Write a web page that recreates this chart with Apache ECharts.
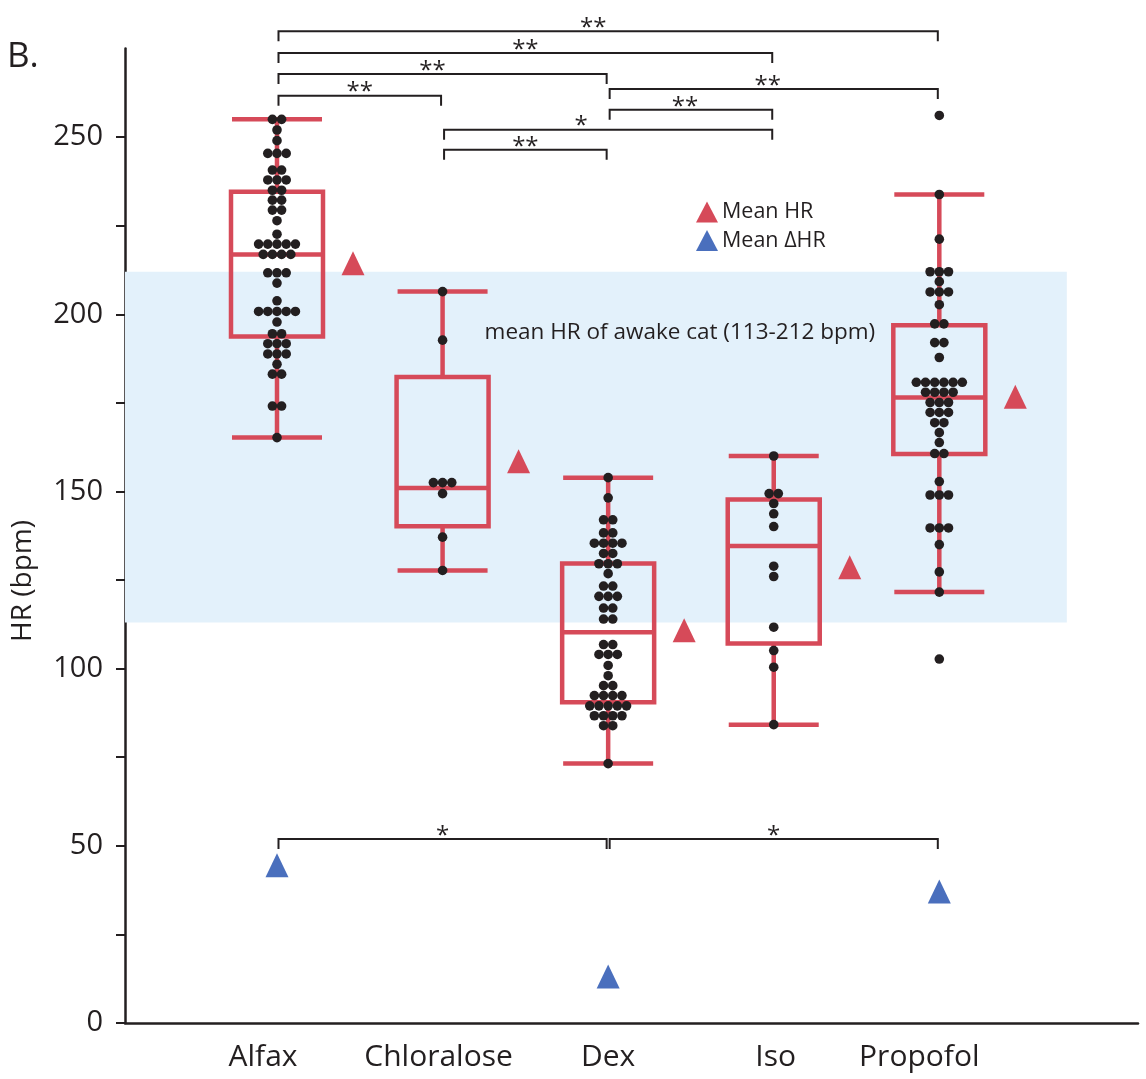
<!DOCTYPE html>
<html>
<head>
<meta charset="utf-8">
<script src="https://cdn.jsdelivr.net/npm/echarts@6/dist/echarts.min.js"></script>
<style>
html,body{margin:0;padding:0;background:#fff;}
#chart{width:1146px;height:1079px;}
</style>
</head>
<body>
<div id="chart"></div>
<script>
// ---------------- DATA ----------------
const categories = ['Alfax', 'Chloralose', 'Dex', 'Iso', 'Propofol'];

// individual HR values (bpm), equal values form one beeswarm row
const alfaxHR = [255,255, 252, 249, 245.4,245.4,245.4, 240.7,240.7, 237.9,237.9,237.9, 235,235, 232.2,232.2,
  229.4,229.4, 226.4, 222.6, 219.8,219.8,219.8,219.8,219.8, 216.9,216.9,216.9,216.9, 211.7,211.7,211.7, 208.8,
  203.8, 200.8,200.8,200.8,200.8,200.8, 197.8, 194.5,194.5, 191.7,191.7,191.7, 188.8,188.8,188.8, 185.9,
  183.1,183.1, 174.1,174.1, 165.2];
const chloraloseHR = [206.4, 192.7, 152.5,152.5,152.5, 149.4, 137.1, 127.7];
const dexHR = [153.9, 148.2, 142.0,142.0, 138.3,138.3, 135.4,135.4,135.4,135.4, 132.5,132.5, 129.6,129.6,129.6,
  126.8, 123.3,123.3, 120.4,120.4,120.4, 117.1,117.1, 114.0,114.0, 106.8,106.8, 104.0,104.0,104.0, 100.9, 98.0,
  95.2,95.2, 92.4,92.4,92.4,92.4, 89.5,89.5,89.5,89.5,89.5, 86.7,86.7,86.7,86.7, 83.9,83.9, 73.2];
const isoHR = [160.0, 149.4,149.4, 146.6, 143.7, 140.1, 128.9, 126.0, 111.7, 105.1, 100.4, 84.2];
const propofolHR = [256.1, 233.8, 221.2, 212.0,212.0,212.0, 209.2, 206.3,206.3,206.3, 202.7, 197.3,197.3,
  192.0,192.0, 187.8, 180.8,180.8,180.8,180.8,180.8,180.8, 178.0,178.0,178.0,178.0, 175.1,175.1,175.1,
  172.3,172.3,172.3, 169.4,169.4, 166.6, 163.8, 160.7,160.7, 152.8, 149.0,149.0,149.0, 139.7,139.7,139.7,
  135.0, 127.3, 121.6, 102.7];
const groupHR = [alfaxHR, chloraloseHR, dexHR, isoHR, propofolHR];

// box plot statistics
const boxMin    = [165.2, 127.7,  73.2,  84.2, 121.6];
const boxQ1     = [193.7, 140.2,  90.5, 107.1, 160.6];
const boxMedian = [216.9, 151.0, 110.3, 134.6, 176.5];
const boxQ3     = [234.6, 182.3, 129.7, 147.7, 196.9];
const boxMax    = [255.0, 206.4, 153.9, 160.0, 233.8];

// means
const meanHR      = [214.4, 158.5, 110.8, 128.6, 176.7];
const meanDeltaHR = [44.5, null, 13.1, null, 37.1];

// awake reference band (bpm)
const awakeBand = [113, 212];
const awakeLabel = 'mean HR of awake cat (113-212 bpm)';

// significance brackets: from index, to index, height (bpm), label
const bracketFrom  = [0, 0, 0, 0, 2, 2, 1, 1, 0, 2];
const bracketTo    = [4, 3, 2, 1, 4, 3, 3, 2, 2, 4];
const bracketLevel = [279.9, 273.7, 267.8, 261.7, 263.6, 257.7, 252.1, 246.4, 51.9, 51.9];
const bracketLabel = ['**', '**', '**', '**', '**', '**', '*', '**', '*', '*'];

// axis ticks
const yTickValues  = [0, 25, 50, 75, 100, 125, 150, 175, 200, 225, 250];
const yLabelValues = [0, 50, 100, 150, 200, 250];

// ---------------- STYLE ----------------
const RED = '#d64a59';
const BLUE = '#4a6fbd';
const INK = '#231f20';
const BAND = '#e3f1fb';
const FONT = 'Open Sans';
const DOT_STEP = 9.2;
const bracketLabelDx = [-15, 0, -10, 0, -6, -6, -27, 0, 0, 0];
const xLabelDx = [-14, -4, 0, 2, -20];

const pos = i => i + 1;

// beeswarm dots
const dots = [];
groupHR.forEach((vals, gi) => {
  const rows = new Map();
  vals.forEach(v => rows.set(v, (rows.get(v) || 0) + 1));
  rows.forEach((n, v) => {
    for (let k = 0; k < n; k++) {
      dots.push({ value: [pos(gi), v], symbolOffset: [(k - (n - 1) / 2) * DOT_STEP, 0] });
    }
  });
});

const boxData = categories.map((c, i) => [pos(i), boxMin[i], boxQ1[i], boxMedian[i], boxQ3[i], boxMax[i]]);
const meanData = meanHR.map((v, i) => [pos(i), v]);
const deltaData = meanDeltaHR.map((v, i) => v == null ? null : [pos(i), v]).filter(d => d);
const bracketData = bracketFrom.map((f, i) => [pos(f), pos(bracketTo[i]), bracketLevel[i], bracketLabel[i]]);

const chart = echarts.init(document.getElementById('chart'));

const option = {
  animation: false,
  backgroundColor: '#fff',
  grid: { left: 125, right: 8, top: 48.5, bottom: 56, containLabel: false },
  legend: {
    orient: 'vertical', left: 691, top: 196, itemWidth: 22, itemHeight: 21, itemGap: 6.5,
    icon: 'triangle',
    textStyle: { fontFamily: FONT, fontSize: 21.5, color: INK, padding: [0, 0, 0, -1] },
    data: [{ name: 'Mean HR', itemStyle: { color: RED } }, { name: 'Mean \u0394HR', itemStyle: { color: BLUE } }]
  },
  graphic: [
    { type: 'text', left: 7, top: 40, style: { text: 'B.', font: '35px "' + FONT + '"', fill: INK } },
    { type: 'text', x: 23, y: 581, rotation: Math.PI / 2,
      style: { text: 'HR (bpm)', font: '28px "' + FONT + '"', fill: INK, align: 'center', verticalAlign: 'middle' } }
  ],
  xAxis: {
    type: 'value', min: 0.082, max: 6.2,
    splitLine: { show: false },
    axisLine: { show: true, onZero: false, lineStyle: { color: INK, width: 2.5 } },
    axisTick: { show: false },
    axisLabel: {
      customValues: [1, 2, 3, 4, 5],
      formatter: v => {
        const i = Math.round(v) - 1;
        return '{c' + i + '|' + (categories[i] || '') + '}';
      },
      rich: Object.fromEntries(xLabelDx.map((d, i) => ['c' + i, {
        fontFamily: FONT, fontSize: 30, color: INK,
        padding: d < 0 ? [0, -2 * d, 0, 0] : [0, 0, 0, 2 * d]
      }])),
      fontFamily: FONT, fontSize: 30, color: INK, margin: 19
    }
  },
  yAxis: {
    type: 'value', min: 0, max: 275,
    splitLine: { show: false },
    axisLine: { show: true, lineStyle: { color: INK, width: 2.5 } },
    axisTick: { show: true, customValues: yTickValues, length: 9, lineStyle: { color: INK, width: 2 } },
    axisLabel: { customValues: yLabelValues, fontFamily: FONT, fontSize: 29, color: INK, margin: 22 }
  },
  series: [
    {
      type: 'line', data: [], z: 0, silent: true,
      markArea: {
        silent: true,
        itemStyle: { color: BAND },
        label: {
          show: true, position: 'insideTop', offset: [84, 44],
          fontFamily: FONT, fontSize: 22.5, color: INK
        },
        data: [[{ xAxis: 0.082, yAxis: awakeBand[1], name: awakeLabel }, { xAxis: 5.77, yAxis: awakeBand[0] }]]
      }
    },
    {
      type: 'custom', name: 'box', z: 3, clip: false,
      data: boxData,
      renderItem: (params, api) => {
        const x = api.coord([api.value(0), 0])[0];
        const yMin = api.coord([0, api.value(1)])[1];
        const yQ1 = api.coord([0, api.value(2)])[1];
        const yMed = api.coord([0, api.value(3)])[1];
        const yQ3 = api.coord([0, api.value(4)])[1];
        const yMax = api.coord([0, api.value(5)])[1];
        const hw = 45;
        const st = { stroke: RED, lineWidth: 4.5, fill: null };
        return {
          type: 'group',
          children: [
            { type: 'line', shape: { x1: x, y1: yMax, x2: x, y2: yQ3 }, style: st },
            { type: 'line', shape: { x1: x, y1: yQ1, x2: x, y2: yMin }, style: st },
            { type: 'line', shape: { x1: x - hw, y1: yMax, x2: x + hw, y2: yMax }, style: st },
            { type: 'line', shape: { x1: x - hw, y1: yMin, x2: x + hw, y2: yMin }, style: st },
            { type: 'rect', shape: { x: x - hw - 1, y: yQ3, width: 2 * hw + 2, height: yQ1 - yQ3 }, style: st },
            { type: 'line', shape: { x1: x - hw - 1, y1: yMed, x2: x + hw + 1, y2: yMed }, style: st }
          ]
        };
      }
    },
    {
      type: 'scatter', name: 'dots', z: 5, symbol: 'circle', symbolSize: 9.6,
      itemStyle: { color: INK, opacity: 1 },
      data: dots
    },
    {
      type: 'scatter', name: 'Mean HR', z: 5, symbol: 'triangle', symbolSize: [23, 24],
      symbolOffset: [76, 0],
      itemStyle: { color: RED, opacity: 1 },
      data: meanData
    },
    {
      type: 'scatter', name: 'Mean \u0394HR', z: 5, symbol: 'triangle', symbolSize: [23, 24],
      itemStyle: { color: BLUE, opacity: 1 },
      data: deltaData
    },
    {
      type: 'custom', name: 'brackets', z: 6, clip: false,
      data: bracketData,
      renderItem: (params, api) => {
        const p1 = api.coord([api.value(0), api.value(2)]);
        const p2 = api.coord([api.value(1), api.value(2)]);
        const x1 = p1[0] + 1.5, x2 = p2[0] - 1.5, y = p1[1];
        const i = params.dataIndex;
        return {
          type: 'group',
          children: [
            { type: 'polyline', shape: { points: [[x1, y + 10], [x1, y], [x2, y], [x2, y + 10]] },
              style: { stroke: INK, lineWidth: 2, fill: null } },
            { type: 'text', x: (x1 + x2) / 2 + bracketLabelDx[i], y: y - 3,
              style: { text: bracketLabel[i], fill: INK, font: '24px "' + FONT + '"', align: 'center', verticalAlign: 'middle' } }
          ]
        };
      }
    }
  ]
};
chart.setOption(option);
</script>
</body>
</html>
